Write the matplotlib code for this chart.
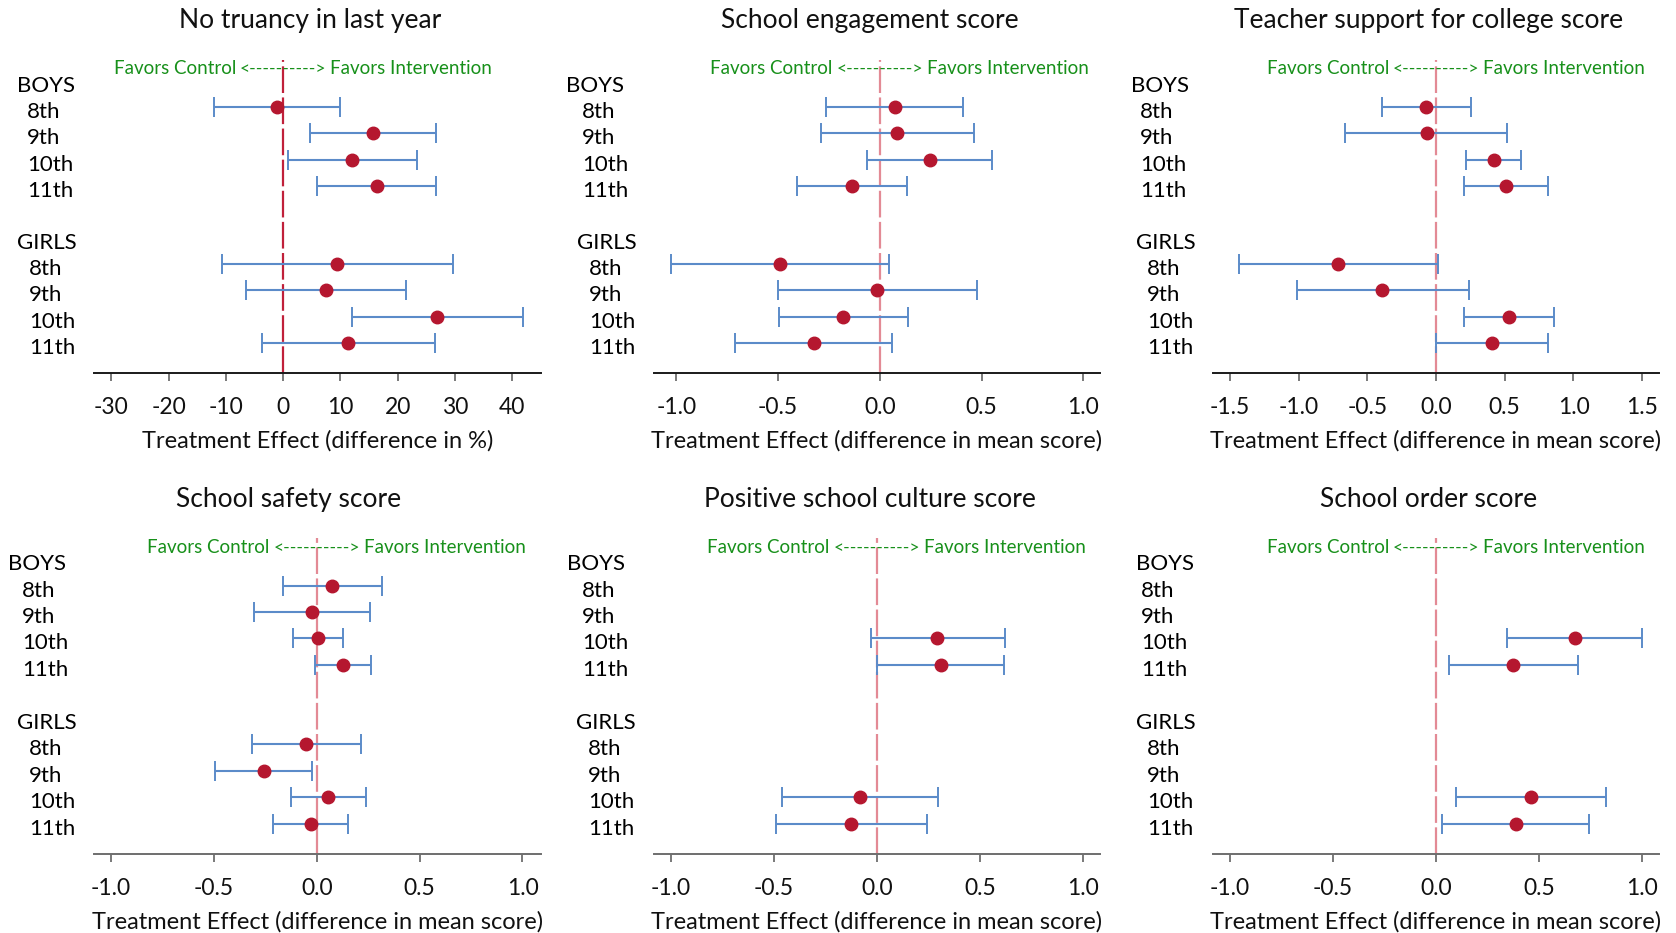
import numpy as np
import matplotlib
matplotlib.use("Agg")
import matplotlib.pyplot as plt

plt.rcParams['font.family'] = ['Lato', 'DejaVu Sans']
plt.rcParams['axes.unicode_minus'] = False

nan = np.nan

titles = ["No truancy in last year", "School engagement score", "Teacher support for college score",
          "School safety score", "Positive school culture score", "School order score"]
xlabels = ["Treatment Effect (difference in %)"] + ["Treatment Effect (difference in mean score)"] * 5
groups = ["BOYS", "GIRLS"]
grades = ["8th", "9th", "10th", "11th"]

# order: boys 8th..11th, girls 8th..11th
truancy_est = [-1.1, 15.6, 12.1, 16.3, 9.4, 7.5, 26.9, 11.4]
truancy_lo = [-12.1, 4.7, 0.8, 5.9, -10.7, -6.5, 12.0, -3.7]
truancy_hi = [10.0, 26.7, 23.3, 26.7, 29.6, 21.5, 41.9, 26.5]

engage_est = [0.074, 0.084, 0.246, -0.137, -0.488, -0.012, -0.179, -0.325]
engage_lo = [-0.263, -0.291, -0.065, -0.405, -1.026, -0.500, -0.496, -0.712]
engage_hi = [0.411, 0.463, 0.553, 0.132, 0.046, 0.477, 0.137, 0.061]

teacher_est = [-0.073, -0.068, 0.419, 0.512, -0.710, -0.390, 0.530, 0.406]
teacher_lo = [-0.390, -0.660, 0.216, 0.203, -1.430, -1.011, 0.205, 0.003]
teacher_hi = [0.252, 0.520, 0.621, 0.816, 0.016, 0.239, 0.858, 0.811]

safety_est = [0.076, -0.023, 0.005, 0.127, -0.050, -0.259, 0.056, -0.028]
safety_lo = [-0.163, -0.304, -0.116, -0.009, -0.313, -0.495, -0.125, -0.212]
safety_hi = [0.319, 0.257, 0.127, 0.264, 0.217, -0.021, 0.240, 0.153]

culture_est = [nan, nan, 0.294, 0.312, nan, nan, -0.081, -0.125]
culture_lo = [nan, nan, -0.026, 0.003, nan, nan, -0.459, -0.488]
culture_hi = [nan, nan, 0.620, 0.615, nan, nan, 0.298, 0.242]

order_est = [nan, nan, 0.674, 0.372, nan, nan, 0.460, 0.389]
order_lo = [nan, nan, 0.347, 0.061, nan, nan, 0.097, 0.031]
order_hi = [nan, nan, 1.000, 0.688, nan, nan, 0.828, 0.745]

xticks_pct = [-30, -20, -10, 0, 10, 20, 30, 40]
xticks_score = [-1.0, -0.5, 0.0, 0.5, 1.0]
xticks_teacher = [-1.5, -1.0, -0.5, 0.0, 0.5, 1.0, 1.5]

# ---- layout / style ----
W, H = 1676, 933
fig = plt.figure(figsize=(W / 100, H / 100), dpi=100)

panels = [
    (truancy_est, truancy_lo, truancy_hi, xticks_pct, (-33.0, 45.0), "%d"),
    (engage_est, engage_lo, engage_hi, xticks_score, (-1.109, 1.082), "%.1f"),
    (teacher_est, teacher_lo, teacher_hi, xticks_teacher, (-1.622, 1.622), "%.1f"),
    (safety_est, safety_lo, safety_hi, xticks_score, (-1.083, 1.09), "%.1f"),
    (culture_est, culture_lo, culture_hi, xticks_score, (-1.08, 1.082), "%.1f"),
    (order_est, order_lo, order_hi, xticks_score, (-1.083, 1.083), "%.1f"),
]
# axes pixel boxes: left, right, top, bottom
boxes = [(94, 541, 60, 373), (654, 1100, 60, 373), (1213, 1659, 60, 373),
         (94, 541, 538, 854), (654, 1100, 538, 854), (1213, 1659, 538, 854)]
# label offsets (px, relative to axes left): BOYS, boys grades, GIRLS, girls grades
label_offsets = [(-77, -67, -77, -65), (-88, -72, -77, -65), (-82, -73, -77, -66),
                 (-86, -72, -77, -65), (-87, -72, -78, -66), (-77, -72, -77, -66)]
title_dx = [-7.5, -7.5, -7.5, -28.5, -7.5, -7.5]
title_rise = [32, 32, 32, 31, 31, 31]
fav_drop = [14, 14, 14, 15, 15, 15]
ref_colors = ["#C0203A", "#E38A95", "#E38A95", "#E38A95", "#E38A95", "#E38A95"]
spine_colors = ["#1a1a1a", "#1a1a1a", "#1a1a1a", "#6e6e6e", "#6e6e6e", "#6e6e6e"]

boy_rows = [1, 2, 3, 4]
girl_rows = [7, 8, 9, 10]
rows = boy_rows + girl_rows
LAB_FS = 16
FAV_FS = 13.5
GREEN = "#17901A"

for i, (est, lo, hi, ticks, xlim, fmt) in enumerate(panels):
    l, r, t, b = boxes[i]
    ax = fig.add_axes([l / W, 1 - b / H, (r - l) / W, (b - t) / H])
    est = np.array(est, float)
    lo = np.array(lo, float)
    hi = np.array(hi, float)
    ok = ~np.isnan(est)
    y = np.array(rows)[ok]
    ax.errorbar(est[ok], y, xerr=[est[ok] - lo[ok], hi[ok] - est[ok]], fmt='none',
                ecolor="#5B8BC9", elinewidth=1.5, capsize=7, capthick=1.4, zorder=2)
    ax.plot(est[ok], y, 'o', color="#B5172F", markersize=9, zorder=3)
    ax.axvline(0, color=ref_colors[i], lw=1.6, dashes=(12, 2), zorder=1)
    ax.set_xlim(*xlim)
    ax.set_ylim(11.15, -0.8)
    ax.set_yticks([])
    for s in ["left", "right", "top"]:
        ax.spines[s].set_visible(False)
    ax.spines["bottom"].set_color(spine_colors[i])
    ax.spines["bottom"].set_linewidth(1.4)
    ax.set_xticks(ticks)
    ax.set_xticklabels([fmt % v for v in ticks])
    ax.tick_params(axis='x', direction='out', length=6, width=1.1, color="#555555",
                   labelsize=16.5, pad=11, labelcolor="#111111")
    ax.set_xlabel(xlabels[i], fontsize=17, labelpad=9, color="#111111")

    # title
    ax.annotate(titles[i], xy=(0.5, 1), xycoords='axes fraction', xytext=(title_dx[i], title_rise[i]),
                textcoords='offset pixels', ha='center', va='baseline', fontsize=19,
                color="#111111")
    # favors text, arrow centred at 0
    fd = -fav_drop[i]
    ax.annotate("<---------->", xy=(0, 1), xycoords=('data', 'axes fraction'), xytext=(0, fd),
                textcoords='offset pixels', ha='center', va='baseline', fontsize=12.6,
                color=GREEN)
    ax.annotate("Favors Control", xy=(0, 1), xycoords=('data', 'axes fraction'), xytext=(-47, fd),
                textcoords='offset pixels', ha='right', va='baseline', fontsize=FAV_FS,
                color=GREEN)
    ax.annotate("Favors Intervention", xy=(0, 1), xycoords=('data', 'axes fraction'), xytext=(47, fd),
                textcoords='offset pixels', ha='left', va='baseline', fontsize=FAV_FS,
                color=GREEN)

    # row labels
    ob, og, oG, ogg = label_offsets[i]
    dy = -5
    ax.annotate(groups[0], xy=(0, 0), xycoords=('axes fraction', 'data'), xytext=(ob, dy),
                textcoords='offset pixels', ha='left', va='center', fontsize=LAB_FS, annotation_clip=False)
    ax.annotate(groups[1], xy=(0, 6), xycoords=('axes fraction', 'data'), xytext=(oG, dy),
                textcoords='offset pixels', ha='left', va='center', fontsize=LAB_FS, annotation_clip=False)
    for g, yy in zip(grades, boy_rows):
        ax.annotate(g, xy=(0, yy), xycoords=('axes fraction', 'data'), xytext=(og, dy),
                    textcoords='offset pixels', ha='left', va='center', fontsize=LAB_FS, annotation_clip=False)
    for g, yy in zip(grades, girl_rows):
        ax.annotate(g, xy=(0, yy), xycoords=('axes fraction', 'data'), xytext=(ogg, dy),
                    textcoords='offset pixels', ha='left', va='center', fontsize=LAB_FS, annotation_clip=False)

fig.savefig("out.png", dpi=100, facecolor="white")
